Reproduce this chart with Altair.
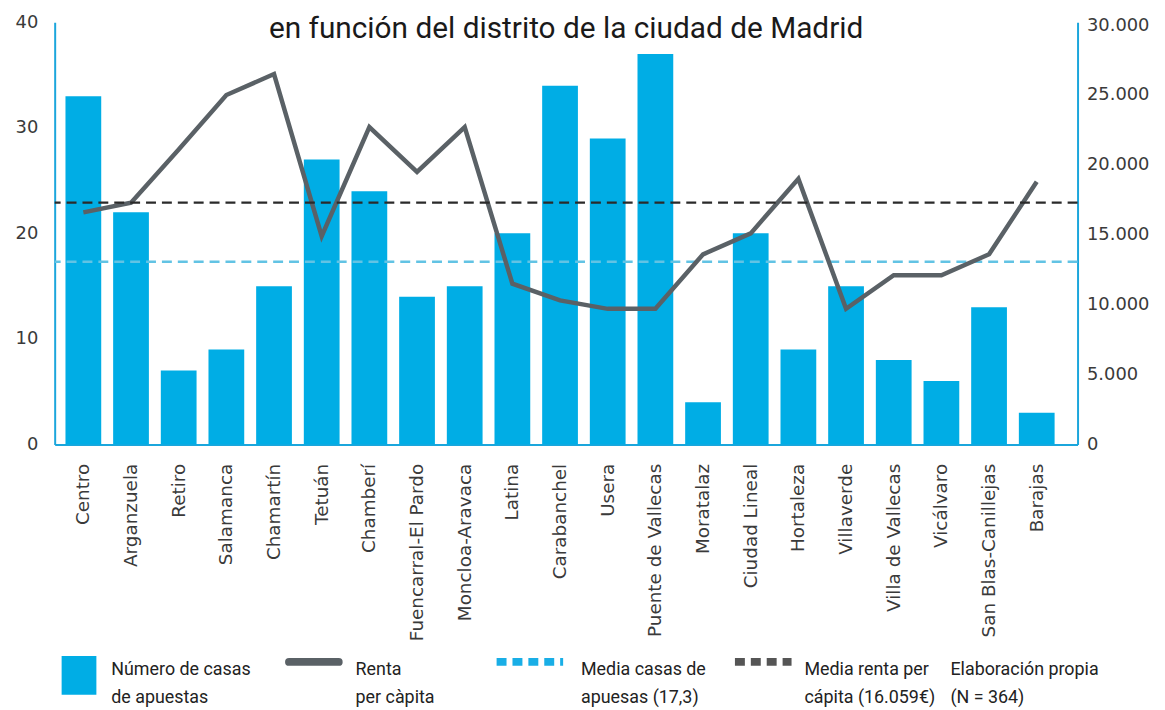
import altair as alt
import pandas as pd

# ---------------- data ----------------
districts = ["Centro", "Arganzuela", "Retiro", "Salamanca", "Chamartín", "Tetuán",
             "Chamberí", "Fuencarral-El Pardo", "Moncloa-Aravaca", "Latina",
             "Carabanchel", "Usera", "Puente de Vallecas", "Moratalaz",
             "Ciudad Lineal", "Hortaleza", "Villaverde", "Villa de Vallecas",
             "Vicálvaro", "San Blas-Canillejas", "Barajas"]
casas = [33, 22, 7, 9, 15, 27, 24, 14, 15, 20, 34, 29, 37, 4, 20, 9, 15, 8, 6, 13, 3]
renta = [16600, 17300, 21100, 25000, 26500, 14900, 22700, 19500, 22700, 11500,
         10300, 9700, 9700, 13600, 15100, 19000, 9700, 12100, 12100, 13600, 18800]
media_casas = [17.3]
media_renta = [17300]   # position as drawn in the reference
left_ticks = [0, 10, 20, 30, 40]
right_ticks = [0, 5000, 10000, 15000, 20000, 25000, 30000]
title_text = "en función del distrito de la ciudad de Madrid"
legend_texts = ["Número de casas\nde apuestas", "Renta\nper càpita",
                "Media casas de\napuesas (17,3)", "Media renta per\ncápita (16.059€)",
                "Elaboración propia\n(N = 364)"]

df = pd.DataFrame({"distrito": districts, "casas": casas, "renta": renta})
one = pd.DataFrame({"a": [0]})

BLUE = "#1ba6dc"
BAR = "#00ade5"
LINE = "#5a6166"
TXT = "#3a3a3a"
TICKFONT = "DejaVu Sans"
CONDENSED = "Roboto"

x_enc = alt.X("distrito:N", sort=districts,
              scale=alt.Scale(paddingInner=0.25, paddingOuter=0.354, align=0.32, round=False),
              axis=alt.Axis(title=None, labelAngle=-90, ticks=False, domainColor=BLUE,
                            domainWidth=2, labelFont=TICKFONT, labelFontSize=18.5,
                            labelColor=TXT, labelPadding=19, labelLimit=400))

left_scale = alt.Scale(domain=[0, 40], nice=False)
right_scale = alt.Scale(domain=[0, 30200], nice=False)

bars = alt.Chart(df).mark_bar(color=BAR).encode(
    x=x_enc,
    y=alt.Y("casas:Q", scale=left_scale,
            axis=alt.Axis(values=left_ticks, title=None, grid=False, ticks=False,
                          domainColor=BLUE, domainWidth=2, labelPadding=17,
                          labelFont=TICKFONT, labelFontSize=18, labelColor=TXT)))

rule_casas = alt.Chart(pd.DataFrame({"m": media_casas})).mark_rule(
    color="#62c3e4", strokeDash=[10, 6], strokeWidth=2.5).encode(
    y=alt.Y("m:Q", scale=left_scale, axis=None))

line = alt.Chart(df).mark_line(color=LINE, strokeWidth=4.5, strokeJoin="miter").encode(
    x=alt.X("distrito:N", sort=districts),
    y=alt.Y("renta:Q", scale=right_scale,
            axis=alt.Axis(orient="right", values=right_ticks, title=None, grid=False,
                          ticks=False, domainColor=BLUE, domainWidth=2, labelPadding=9,
                          labelFont=TICKFONT, labelFontSize=18, labelColor=TXT,
                          labelExpr="replace(format(datum.value, ','), ',', '.')")))

rule_renta = alt.Chart(pd.DataFrame({"m": media_renta})).mark_rule(
    color="#2a2a2a", strokeDash=[10, 6], strokeWidth=2.5).encode(
    y=alt.Y("m:Q", scale=right_scale, axis=None))

title = alt.Chart(one).mark_text(
    text=title_text, font=CONDENSED, fontSize=30, color="#1a1a1a",
    align="center", baseline="alphabetic").encode(
    x=alt.value(515), y=alt.value(16))

# legend symbols
leg_box = alt.Chart(one).mark_rect(color=BAR).encode(
    x=alt.value(7), x2=alt.value(42), y=alt.value(638), y2=alt.value(677))
leg_line = alt.Chart(one).mark_rule(color=LINE, strokeWidth=8, strokeCap="round").encode(
    x=alt.value(236), x2=alt.value(286), y=alt.value(644))
leg_lb = alt.Chart(one).mark_rule(color="#19aee6", strokeWidth=8, strokeDash=[10, 6]).encode(
    x=alt.value(445), x2=alt.value(512), y=alt.value(644))
leg_dk = alt.Chart(one).mark_rule(color="#555555", strokeWidth=8, strokeDash=[10, 6]).encode(
    x=alt.value(685), x2=alt.value(742), y=alt.value(644))

legend_x = [57, 303, 530, 755, 902]
legend_layers = []
for lx, txt in zip(legend_x, legend_texts):
    legend_layers.append(
        alt.Chart(one).mark_text(text=txt, lineBreak="\n", lineHeight=28, font=CONDENSED,
                                 fontSize=18, color="#222222", align="left",
                                 baseline="alphabetic").encode(
            x=alt.value(lx), y=alt.value(657)))

chart = alt.layer(bars, rule_casas, line, rule_renta, title, leg_box, leg_line, leg_lb,
                  leg_dk, *legend_layers).resolve_scale(y="independent").properties(
    width=1030, height=425,
    autosize=alt.AutoSizeParams(type="none"),
    padding={"left": 47, "top": 12, "right": 80, "bottom": 263},
    background="white",
).configure_view(stroke=None)

chart.save("out.html", embed_options={"renderer": "svg", "actions": False})
